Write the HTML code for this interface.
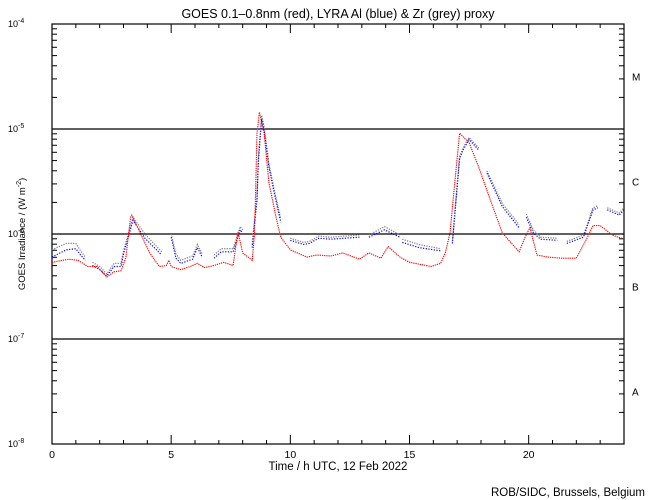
<!DOCTYPE html>
<html><head><meta charset="utf-8"><style>
body{margin:0;background:#fff;}
svg{display:block;font-family:"Liberation Sans",sans-serif;}
</style></head><body>
<svg id="chart" width="650" height="500" viewBox="0 0 650 500">
<rect width="650" height="500" fill="#fff"/>
<text x="338" y="18" font-size="12.5" text-anchor="middle">GOES 0.1–0.8nm (red), LYRA Al (blue) &amp; Zr (grey) proxy</text>
<text x="338" y="470" font-size="11.5" text-anchor="middle">Time / h UTC, 12 Feb 2022</text>
<text x="645" y="496" font-size="11.5" text-anchor="end">ROB/SIDC, Brussels, Belgium</text>
<text transform="translate(25,234) rotate(-90)" font-size="9.5" text-anchor="middle">GOES Irradiance / (W m<tspan dy="-4" font-size="7">-2</tspan><tspan dy="4">)</tspan></text>
<g id="axes"></g>
<g id="series"></g>
</svg>
<script>
const hoursRed=[0,0.7,1.1,1.5,1.9,2.3,2.6,2.9,3.1,3.3,3.35,3.7,4.1,4.5,4.8,4.9,5.0,5.4,5.8,6.1,6.4,6.8,7.2,7.6,7.8,8.0,8.4,8.5,8.6,8.7,8.9,9.1,9.4,9.6,10.0,10.7,11.1,11.7,12.2,12.9,13.3,13.8,14.1,14.6,15.0,15.9,16.3,16.5,16.7,16.9,17.1,17.5,17.9,18.4,18.9,19.6,19.85,20.05,20.35,20.8,21.4,22.0,22.4,22.7,23.0,23.5,24];
const logRed=[-6.27,-6.24,-6.25,-6.31,-6.31,-6.41,-6.36,-6.35,-6.22,-5.84,-5.82,-5.99,-6.18,-6.31,-6.30,-6.25,-6.31,-6.34,-6.31,-6.28,-6.32,-6.30,-6.27,-6.30,-5.98,-6.18,-6.25,-5.99,-5.04,-4.84,-5.04,-5.51,-5.84,-6.03,-6.15,-6.22,-6.20,-6.21,-6.18,-6.24,-6.18,-6.23,-6.12,-6.22,-6.27,-6.31,-6.28,-6.18,-5.99,-5.51,-5.04,-5.13,-5.36,-5.68,-5.99,-6.17,-6.03,-5.94,-6.20,-6.22,-6.23,-6.23,-6.06,-5.92,-5.92,-6.01,-6.05];
const hoursBlue=[0,0.6,1.0,1.2,1.4,1.55,1.7,2.0,2.3,2.6,2.9,3.0,3.4,3.9,4.6,4.8,5.0,5.2,5.4,5.9,6.1,6.3,6.5,6.8,7.1,7.6,7.9,8.0,8.2,8.4,8.5,8.6,8.66,8.8,8.9,9.1,9.3,9.6,9.8,10.0,10.55,10.8,11.2,11.7,12.9,13.1,13.3,13.95,14.6,14.65,14.7,15.4,16.3,16.5,16.8,16.95,17.1,17.25,17.5,17.9,18.1,18.25,18.9,19.6,19.75,19.9,20.2,20.5,21.2,21.4,21.6,22.3,22.7,22.9,23.1,23.3,23.8,24];
const logBlue=[-6.22,-6.15,-6.14,-6.20,-6.25,null,-6.30,-6.34,-6.40,-6.31,-6.31,-6.19,-5.87,-6.04,-6.20,null,-6.03,-6.23,-6.28,-6.24,-6.13,-6.22,null,-6.23,-6.17,-6.17,-5.96,-5.99,null,-6.13,-5.89,-5.68,-5.30,-4.90,-5.01,-5.36,-5.58,-5.89,null,-6.06,-6.10,-6.09,-6.04,-6.05,-6.03,null,-6.03,-5.96,-6.03,null,-6.08,-6.13,-6.16,null,-6.09,-5.68,-5.28,-5.20,-5.10,-5.20,null,-5.42,-5.74,-5.94,null,-5.84,-5.99,-6.05,-6.06,null,-6.09,-6.03,-5.77,-5.75,null,-5.77,-5.82,-5.77];
const logGrey=[-6.15,-6.09,-6.09,-6.16,-6.22,null,-6.27,-6.31,-6.38,-6.28,-6.28,-6.16,-5.84,-6.00,-6.17,null,-6.00,-6.19,-6.25,-6.21,-6.10,-6.19,null,-6.20,-6.14,-6.14,-5.93,-5.96,null,-6.10,-5.86,-5.65,-5.27,-4.87,-4.98,-5.33,-5.55,-5.86,null,-6.04,-6.08,-6.07,-6.02,-6.03,-6.01,null,-6.01,-5.93,-6.01,null,-6.05,-6.10,-6.14,null,-6.07,-5.66,-5.26,-5.18,-5.08,-5.18,null,-5.40,-5.71,-5.91,null,-5.81,-5.96,-6.03,-6.04,null,-6.07,-6.01,-5.75,-5.73,null,-5.75,-5.80,-5.75];
const xTicks=[0,5,10,15,20];
const yExponents=[-4,-5,-6,-7,-8];
const classLabels=["M","C","B","A"];

const NS="http://www.w3.org/2000/svg";
const X0=52,X1=624,Y0=24,Y1=444;
const xs=h=>X0+(X1-X0)*h/24;
const ys=l=>Y0+(-4-l)*(Y1-Y0)/4;
const axes=document.getElementById('axes');
const series=document.getElementById('series');
function mk(tag,attrs,parent){const e=document.createElementNS(NS,tag);for(const k in attrs)e.setAttribute(k,attrs[k]);parent.appendChild(e);return e;}

let frame=mk('rect',{x:X0,y:Y0,width:X1-X0,height:Y1-Y0,fill:'none',stroke:'#000','stroke-width':1.2},axes);


[-5,-6,-7].forEach(l=>{const ln=mk('line',{x1:X0,x2:X1,y1:ys(l),y2:ys(l),stroke:'#000','stroke-width':1.2},axes);

});
for(let d=-8;d<-4;d++){for(let m=1;m<10;m++){const l=d+Math.log10(m);const y=ys(l);const len=m===1?10:5;
const t1=mk('line',{x1:X0,x2:X0+len,y1:y,y2:y,stroke:'#000'},axes);


const t2=mk('line',{x1:X1,x2:X1-len,y1:y,y2:y,stroke:'#000'},axes);

}}
yExponents.forEach(e=>{const t=mk('text',{x:8,y:ys(e)+3,'font-size':9},axes);t.innerHTML='10<tspan dy="-4" font-size="7">'+e+'</tspan>';

});
classLabels.forEach((c,i)=>{const t=mk('text',{x:632,y:ys(-4.5-i)+4,'font-size':10},axes);t.textContent=c;

});
for(let h=0;h<=24;h++){const x=xs(h);const len=h%5===0?9:4;
const b=mk('line',{x1:x,x2:x,y1:Y1,y2:Y1-len,stroke:'#000'},axes);


const t=mk('line',{x1:x,x2:x,y1:Y0,y2:Y0+len,stroke:'#000'},axes);

}
xTicks.forEach(h=>{const t=mk('text',{x:xs(h),y:Y1+14,'font-size':10.5,'text-anchor':'middle'},axes);t.textContent=h;

});

function drawSeries(hours,vals,color,name,w,dash){let pts=[];const flush=()=>{if(pts.length>1){const p=mk('polyline',{points:pts.join(' '),fill:'none',stroke:color,'stroke-width':w,'stroke-dasharray':dash},series);

}pts=[];};
hours.forEach((h,i)=>{const v=vals[i];if(v===null){flush();}else pts.push(xs(h).toFixed(1)+','+ys(v).toFixed(1));});flush();}
drawSeries(hoursBlue,logGrey,'#808080','lyra-zr-series',1.3,'1.2 1.3');
drawSeries(hoursBlue,logBlue,'#0000ff','lyra-al-series',1.2,'1.2 1.5');
drawSeries(hoursRed,logRed,'#ff0000','goes-series',1.1,'1.3 0.9');
</script>
</body></html>
